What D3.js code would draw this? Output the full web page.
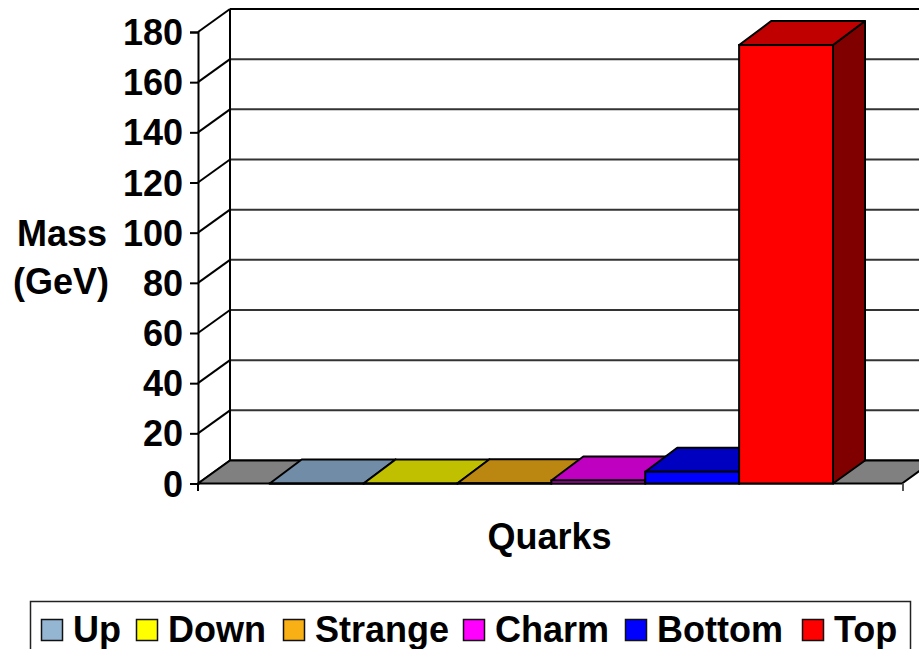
<!DOCTYPE html>
<html>
<head>
<meta charset="utf-8">
<script src="https://cdn.jsdelivr.net/npm/d3@7"></script>
<style>
body{margin:0;background:#fff;}
svg{display:block;}
text{font-family:"Liberation Sans",Arial,sans-serif;font-weight:bold;fill:#000;}
</style>
</head>
<body>
<div id="chart"></div>
<script>
var quarks = ['Up','Down','Strange','Charm','Bottom','Top'];
var masses = [0.003,0.006,0.1,1.2,4.7,174.8];
var frontColors = ['#95b6d3','#ffff00','#f9b015','#ff00ff','#0000ff','#ff0000'];
var topColors = ['#708ca6','#c0c000','#bb8710','#c000c0','#0000c0','#c00000'];
var sideColors = ['#4b5e6a','#808000','#7d580b','#800080','#000080','#800000'];
var yTicks = d3.range(0,181,20);
var legendX = [41,136,283,463,625,802];

var width = 919, height = 649;
var dx = 32, dy = -23;   // 3d depth offset
var barDy = -24;         // bar tops come out a bit deeper than the floor
var fontSize = 36;

var svg = d3.select('#chart').append('svg')
    .attr('width',width)
    .attr('height',height);

var y = d3.scaleLinear().domain([0,180]).range([483.5,32]);
var x = d3.scaleBand().domain(quarks).range([269.7,833]).padding(0);

function pts(a){ return a.map(function(p){ return p.join(','); }).join(' '); }

//back wall gridlines
svg.selectAll('.grid')
    .data(yTicks)
    .enter()
    .append('line')
    .attr('x1',230)
    .attr('x2',934)
    .attr('y1',function(d){ return y(d)+dy; })
    .attr('y2',function(d){ return y(d)+dy; })
    .style('stroke',function(d){ return d%180===0 ? '#000' : '#333'; })
    .style('stroke-width',2);

//side wall diagonals
svg.selectAll('.diag')
    .data(yTicks)
    .enter()
    .append('line')
    .attr('x1',198)
    .attr('x2',198+dx)
    .attr('y1',function(d){ return y(d); })
    .attr('y2',function(d){ return y(d)+dy; })
    .style('stroke','#000')
    .style('stroke-width',2);

//walls
svg.append('line').attr('x1',198+dx).attr('x2',198+dx).attr('y1',y(180)+dy).attr('y2',y(0)+dy)
    .style('stroke','#000').style('stroke-width',2);

//floor
svg.append('polygon')
    .attr('points',pts([[198,y(0)],[198+dx,y(0)+dy],[902+dx,y(0)+dy],[902,y(0)]]))
    .style('fill','#808080')
    .style('stroke','#000')
    .style('stroke-width',2);

//front axes
var axis = d3.axisLeft(y).tickValues(yTicks).tickSize(8).tickPadding(7);
var gAxis = svg.append('g')
    .attr('transform','translate(198,0)')
    .call(axis);
gAxis.select('.domain').style('stroke','#000').style('stroke-width',2);
gAxis.selectAll('.tick line').style('stroke','#000').style('stroke-width',2);
gAxis.selectAll('text')
    .attr('dy','0.35em')
    .style('font-size',fontSize+'px')
    .style('font-family','"Liberation Sans",Arial,sans-serif')
    .style('font-weight','bold')
    .style('fill','#000');

svg.append('line').attr('x1',198).attr('x2',198).attr('y1',y(0)).attr('y2',491)
    .style('stroke','#000').style('stroke-width',2);
svg.append('line').attr('x1',903).attr('x2',903).attr('y1',y(0)).attr('y2',491)
    .style('stroke','#555').style('stroke-width',2);

//bars
var bars = svg.selectAll('.bar')
    .data(quarks)
    .enter()
    .append('g')
    .attr('class','bar');

bars.append('polygon')   //side
    .attr('points',function(d,i){
        var r = x(d)+x.bandwidth();
        return pts([[r,y(masses[i])],[r+dx,y(masses[i])+barDy],[r+dx,y(0)+dy],[r,y(0)]]);
    })
    .style('fill',function(d,i){ return sideColors[i]; })
    .style('stroke','#000')
    .style('stroke-width',2)
    .style('stroke-linejoin','round');

bars.append('polygon')   //top
    .attr('points',function(d,i){
        var l = x(d), r = l+x.bandwidth(), t = y(masses[i]);
        return pts([[l,t],[l+dx,t+barDy],[r+dx,t+barDy],[r,t]]);
    })
    .style('fill',function(d,i){ return topColors[i]; })
    .style('stroke','#000')
    .style('stroke-width',2)
    .style('stroke-linejoin','round');

bars.append('rect')   //front
    .attr('x',function(d){ return x(d); })
    .attr('y',function(d,i){ return y(masses[i]); })
    .attr('width',x.bandwidth())
    .attr('height',function(d,i){ return y(0)-y(masses[i]); })
    .style('fill',function(d,i){ return frontColors[i]; })
    .style('stroke','#000')
    .style('stroke-width',2);

//axis titles
svg.append('text').attr('x',549.5).attr('y',549).attr('text-anchor','middle')
    .style('font-size',fontSize+'px').text('Quarks');
svg.append('text').attr('x',62).attr('y',246).attr('text-anchor','middle')
    .style('font-size',fontSize+'px').text('Mass');
svg.append('text').attr('x',61).attr('y',294).attr('text-anchor','middle')
    .style('font-size',fontSize+'px').text('(GeV)');

//legend
svg.append('rect')
    .attr('x',30.5)
    .attr('y',601.5)
    .attr('width',880)
    .attr('height',60)
    .style('fill','#fff')
    .style('stroke','#222')
    .style('stroke-width',1.5);

var items = svg.selectAll('.item')
    .data(quarks)
    .enter()
    .append('g')
    .attr('class','item')
    .attr('transform',function(d,i){ return 'translate('+legendX[i]+',0)'; });

items.append('rect')
    .attr('x',0.5)
    .attr('y',619.5)
    .attr('width',21)
    .attr('height',21)
    .style('fill',function(d,i){ return frontColors[i]; })
    .style('stroke','#111')
    .style('stroke-width',1.5);

items.append('text')
    .attr('x',32)
    .attr('y',642)
    .style('font-size',fontSize+'px')
    .text(function(d){ return d; });
</script>
</body>
</html>
